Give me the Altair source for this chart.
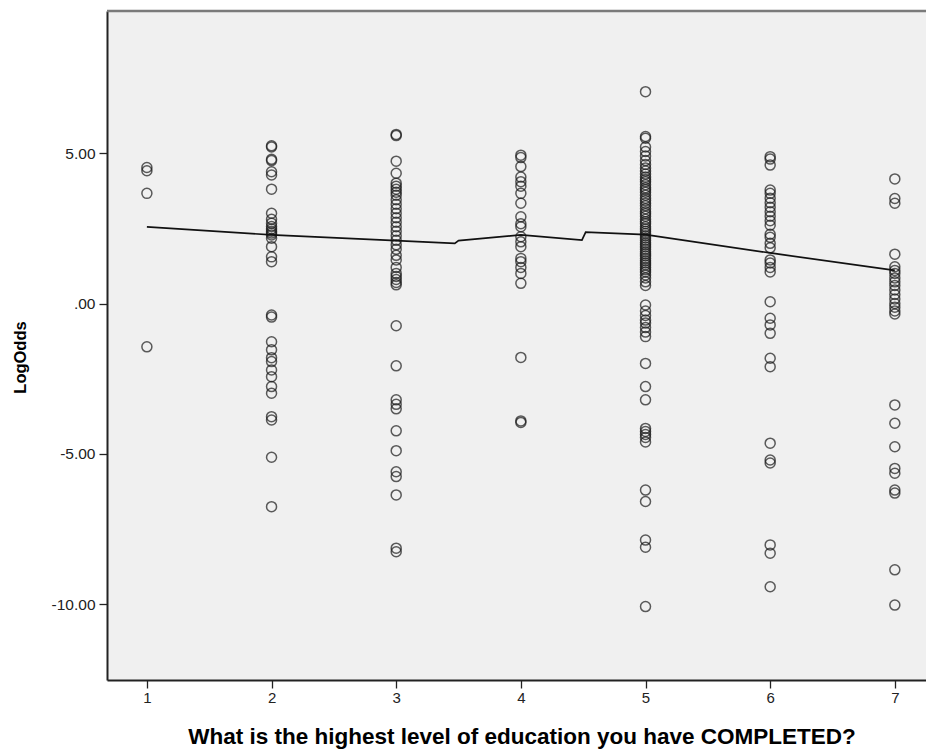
import altair as alt
import pandas as pd

# Scatter values (LogOdds) per education level
edu1 = [4.52, 4.41, 3.66, -1.44]
edu2 = [5.24, 5.20, 4.79, 4.75, 4.38, 4.27, 3.80, 3.00, 2.80, 2.67, 2.56, 2.48,
        2.40, 2.34, 2.28, 2.17, 1.89, 1.55, 1.39, -0.38, -0.45, -1.27, -1.54,
        -1.80, -1.93, -2.21, -2.43, -2.76, -2.98, -3.76, -3.87, -5.11, -6.75]
edu3 = [5.62, 5.58, 4.73, 4.33, 4.00, 3.90, 3.80, 3.70, 3.60, 3.45, 3.30, 3.15,
        3.00, 2.85, 2.70, 2.55, 2.40, 2.25, 2.10, 1.95, 1.80, 1.60, 1.45, 1.20,
        1.00, 0.90, 0.80, 0.70, 0.62, -0.74, -2.07, -3.20, -3.35, -3.50, -4.23,
        -4.89, -5.59, -5.75, -6.36, -8.13, -8.25]
edu4 = [4.93, 4.85, 4.55, 4.20, 4.05, 3.90, 3.66, 3.33, 2.88, 2.65, 2.55, 2.22,
        2.05, 1.89, 1.50, 1.39, 1.20, 1.00, 0.67, -1.79, -3.90, -3.95]
edu5 = [7.04, 5.55, 5.49, 5.20, 5.05, 4.90, 4.75, 4.62, 4.50, 4.40, 4.30, 4.20,
        4.12, 4.05, 3.95, 3.85, 3.78, 3.70, 3.60, 3.50, 3.42, 3.33, 3.25, 3.15,
        3.05, 2.98, 2.90, 2.80, 2.72, 2.65, 2.55, 2.48, 2.40, 2.33, 2.25, 2.18,
        2.10, 2.02, 1.95, 1.88, 1.80, 1.72, 1.65, 1.58, 1.50, 1.42, 1.35, 1.28,
        1.20, 1.12, 1.05, 0.95, 0.85, 0.72, 0.60, -0.05, -0.25, -0.40, -0.55,
        -0.65, -0.80, -0.95, -1.10, -1.99, -2.76, -3.20, -4.15, -4.25, -4.35,
        -4.45, -4.60, -6.20, -6.58, -7.86, -8.10, -10.07]
edu6 = [4.88, 4.80, 4.60, 3.77, 3.66, 3.50, 3.35, 3.20, 3.05, 2.90, 2.75, 2.60,
        2.30, 2.20, 2.00, 1.85, 1.45, 1.35, 1.20, 1.05, 0.06, -0.49, -0.71,
        -0.99, -1.82, -2.10, -4.64, -5.20, -5.30, -8.02, -8.30, -9.41]
edu7 = [4.14, 3.49, 3.33, 1.64, 1.22, 1.10, 1.00, 0.85, 0.72, 0.60, 0.45, 0.30,
        0.15, 0.00, -0.12, -0.25, -0.35, -3.37, -3.98, -4.76, -5.48, -5.64,
        -6.20, -6.30, -8.85, -10.02]

# Fit line
fit_x = [1, 2, 3, 3.47, 3.50, 4, 4.49, 4.52, 5, 6, 7]
fit_y = [2.55, 2.28, 2.09, 2.00, 2.09, 2.28, 2.11, 2.37, 2.29, 1.68, 1.10]

x_ticks = [1, 2, 3, 4, 5, 6, 7]
y_ticks = [-10, -5, 0, 5]

rows = []
for lvl, vals in enumerate([edu1, edu2, edu3, edu4, edu5, edu6, edu7], start=1):
    for v in vals:
        rows.append({"edu": lvl, "logodds": v})
pts = pd.DataFrame(rows)
fit = pd.DataFrame({"edu": fit_x, "logodds": fit_y})

FONT = "Liberation Sans"
W, H = 819, 669

xscale = alt.Scale(domain=[0.68, 7.25], nice=False, zero=False)
yscale = alt.Scale(domain=[-12.51, 9.72], nice=False, zero=False)

xaxis = alt.Axis(
    values=x_ticks, format="d",
    title="What is the highest level of education you have COMPLETED?",
    grid=False, tickSize=8, tickColor="#222222", tickWidth=1.3,
    domainColor="#222222", domainWidth=2,
    labelFont=FONT, labelFontSize=15, labelColor="#222222", labelPadding=2,
    titleFont=FONT, titleFontSize=22.5, titleFontWeight="bold", titleColor="#000000",
    titleBaseline="alphabetic", titleAlign="center", titleY=63, titleX=414.5,
)
yaxis = alt.Axis(
    values=y_ticks, title="LogOdds",
    labelExpr="datum.value == 0 ? '.00' : (datum.value < 0 ? '-' : '') + format(abs(datum.value), '.2f')",
    grid=False, tickSize=8, tickColor="#222222", tickWidth=1.3,
    domainColor="#222222", domainWidth=2,
    labelFont=FONT, labelFontSize=15.5, labelColor="#222222", labelPadding=4,
    titleFont=FONT, titleFontSize=16.5, titleFontWeight="bold", titleColor="#000000",
    titleAngle=270, titleBaseline="alphabetic", titleAlign="center",
    titleX=-82, titleY=346,
)

points = alt.Chart(pts).mark_point(
    shape="circle", filled=False, size=100, stroke="#1a1a1a", strokeWidth=1.5
).encode(
    x=alt.X("edu:Q", scale=xscale, axis=xaxis),
    y=alt.Y("logodds:Q", scale=yscale, axis=yaxis),
)

line = alt.Chart(fit).mark_line(color="#111111", strokeWidth=1.7).encode(
    x=alt.X("edu:Q", scale=xscale),
    y=alt.Y("logodds:Q", scale=yscale),
)

topborder = alt.Chart(pd.DataFrame({"a": [0]})).mark_rule(
    color="#7a7a7a", strokeWidth=2.5
).encode(x=alt.value(0), x2=alt.value(W), y=alt.value(0))

chart = alt.layer(points, line, topborder).properties(
    width=W, height=H,
    autosize=alt.AutoSizeParams(type="none"),
    padding={"left": 107, "top": 11, "right": 0, "bottom": 72},
).configure(
    background="#ffffff"
).configure_view(
    fill="#f0f0f0", stroke=None
)

chart.save("out.html", embed_options={"renderer": "svg", "actions": False})
